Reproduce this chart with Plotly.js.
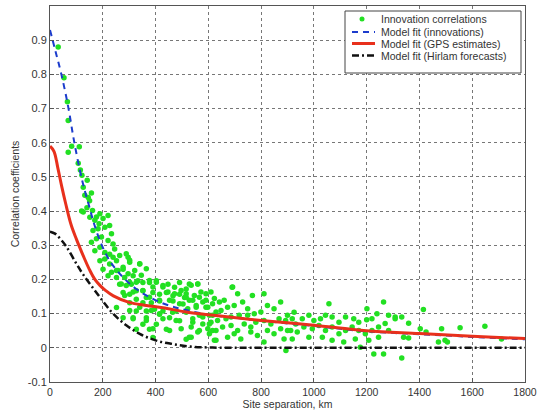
<!DOCTYPE html>
<html>
<head>
<meta charset="utf-8">
<script src="https://cdn.plot.ly/plotly-3.0.1.min.js"></script>
<style>html,body{margin:0;padding:0;background:#fff;}#chart{width:537px;height:414px;}</style>
</head>
<body>
<div id="chart"></div>
<script>
// Innovation correlations (site separation km, correlation)
const innovKm = [
 31,53,66,69,69,82,111,107,115,121,141,126,157,132,150,126,161,140,176,186,120,145,
 151,170,189,201,220,163,182,208,226,233,157,176,195,220,239,170,189,208,226,245,189,208,226,252,296,302,340,
 201,233,258,277,220,252,283,315,333,264,289,308,352,377,403,428,447,472,491,516,277,302,327,352,365,390,415,441,466,491,510,
 302,327,352,384,415,466,504,252,327,365,396,428,478,516,277,315,365,415,453,491,352,403,327,377,441,390,516,
 516,535,560,528,547,572,591,522,554,579,598,623,642,660,692,711,541,566,604,629,648,673,698,730,749,
 535,579,610,635,667,686,717,749,774,799,811,824,849,874,900,560,598,629,654,686,711,736,761,780,811,837,868,893,918,
 535,623,673,698,723,761,786,824,849,874,900,811,887,690,767,894,
 925,956,931,912,937,981,1000,1025,1057,1044,1069,1095,1120,1151,1170,1201,1220,1239,1264,1283,1308,
 962,994,1019,1044,1069,1095,1120,1145,1170,1195,1220,1245,1283,981,1032,1069,1113,1157,1208,1245,918,1227,1264,1176,1200,1270,
 1308,1333,1359,1340,1359,1415,1403,1425,1484,1472,1497,1506,1554,1648,1333,1711,
 239,264,289,302,340,277,252,296,321,346,365,377,327,302,270,403,428,390,352,315,283,447,472,497,528,560,516,541,566,591,610,
 377,415,453,491,554,591,616,340,302,384,415,465,516,579,616,315,365,428,478,541,604,390,453,497,566,616,528,604,629
];
const innovCorr = [
 0.88,0.79,0.72,0.665,0.572,0.59,0.588,0.54,0.52,0.505,0.49,0.47,0.453,0.446,0.43,0.397,0.402,0.41,0.383,0.363,0.40,0.44,
 0.382,0.373,0.392,0.378,0.387,0.343,0.348,0.353,0.358,0.334,0.309,0.319,0.324,0.314,0.304,0.284,0.294,0.279,0.274,0.289,0.255,0.26,0.245,0.255,0.265,0.25,0.245,
 0.23,0.221,0.226,0.23,0.211,0.206,0.206,0.211,0.196,0.186,0.182,0.186,0.191,0.191,0.196,0.182,0.186,0.177,0.191,0.172,0.162,0.157,0.167,0.167,0.147,0.162,0.157,0.162,0.152,0.157,0.147,
 0.132,0.142,0.132,0.132,0.137,0.137,0.128,0.118,0.108,0.108,0.113,0.108,0.108,0.108,0.088,0.088,0.088,0.098,0.088,0.079,0.069,0.069,0.054,0.054,0.054,0.03,0.025,
 0.158,0.183,0.187,0.139,0.153,0.163,0.158,0.114,0.124,0.134,0.119,0.144,0.134,0.139,0.178,0.158,0.085,0.095,0.095,0.105,0.109,0.119,0.124,0.134,0.114,
 0.061,0.07,0.075,0.08,0.085,0.09,0.095,0.095,0.1,0.105,0.158,0.124,0.114,0.134,0.095,0.046,0.056,0.051,0.061,0.065,0.051,0.07,0.061,0.075,0.08,0.07,0.085,0.08,0.085,
 0.031,0.022,0.031,0.041,0.026,0.046,0.036,0.051,0.041,0.056,0.051,0.017,0.026,0.177,0.153,-0.008,
 0.104,0.085,0.07,0.051,0.046,0.095,0.08,0.085,0.129,0.095,0.09,0.075,0.09,0.085,0.075,0.114,0.085,0.1,0.134,0.095,0.09,
 0.061,0.056,0.065,0.051,0.061,0.041,0.051,0.061,0.051,0.041,0.051,0.061,0.051,0.031,0.031,0.022,0.017,0.026,0.022,0.031,0.026,-0.018,-0.018,0.002,0.082,0.071,
 0.085,0.09,0.072,0.031,0.029,0.112,0.056,0.046,0.056,0.017,0.022,0.017,0.059,0.063,-0.03,0.026,
 0.265,0.27,0.275,0.256,0.246,0.236,0.226,0.217,0.226,0.212,0.231,0.197,0.192,0.192,0.187,0.192,0.178,0.178,0.168,0.163,0.153,0.163,0.158,0.168,0.187,0.187,0.148,0.139,0.148,0.139,0.163,
 0.148,0.139,0.139,0.129,0.119,0.119,0.129,0.119,0.109,0.109,0.1,0.104,0.104,0.09,0.095,0.085,0.08,0.085,0.08,0.075,0.07,0.056,0.051,0.056,0.051,0.051,0.031,0.041,0.022
];

// Model fit (innovations)
const innovFitKm   = [0,20,44,69,90,113,130,150,163,189,226,277,327,390,453,503,600,700,800,1000,1200,1400,1600,1800];
const innovFitCorr = [0.93,0.87,0.797,0.705,0.61,0.52,0.465,0.41,0.373,0.314,0.255,0.206,0.172,0.143,0.123,0.113,0.097,0.088,0.079,0.064,0.048,0.04,0.032,0.025];

// Model fit (GPS estimates)
const gpsFitKm   = [0,15,30,45,60,80,100,113,130,150,170,190,210,240,300,365,428,516,600,679,800,1000,1200,1400,1600,1800];
const gpsFitCorr = [0.59,0.575,0.525,0.47,0.42,0.36,0.318,0.293,0.262,0.228,0.2,0.182,0.168,0.152,0.133,0.124,0.117,0.105,0.097,0.09,0.08,0.066,0.05,0.042,0.034,0.027];

// Model fit (Hirlam forecasts)
const hirFitKm   = [0,19,40,63,100,126,163,201,239,289,340,403,466,528,600,700,1000,1400,1800];
const hirFitCorr = [0.34,0.334,0.318,0.295,0.246,0.214,0.175,0.136,0.1,0.066,0.041,0.021,0.011,0.004,0.001,0,0,0,0];

const xTickVals = [0,200,400,600,800,1000,1200,1400,1600,1800];
const yTickVals = [-0.1,0,0.1,0.2,0.3,0.4,0.5,0.6,0.7,0.8,0.9];
const yTickText = ['-0.1','0','0.1','0.2','0.3','0.4','0.5','0.6','0.7','0.8','0.9'];

const seriesNames = ['Innovation correlations','Model fit (innovations)','Model fit (GPS estimates)','Model fit (Hirlam forecasts)'];
const seriesColors = ['#22e022','#1c3ccc','#e8301c','#111111'];
const seriesDash = [null,'6px,5px','solid','7px,3px,2px,3px'];
const seriesWidth = [0,2,3,2.5];

const font = 'Liberation Sans, Arial, Helvetica, sans-serif';

const traces = [
  {x: innovKm, y: innovCorr, mode: 'markers', type: 'scatter', name: seriesNames[0],
   marker: {color: seriesColors[0], size: 5.5, line: {width: 0}}},
  {x: innovFitKm, y: innovFitCorr, mode: 'lines', type: 'scatter', name: seriesNames[1],
   line: {color: seriesColors[1], width: seriesWidth[1], dash: seriesDash[1], shape: 'spline'}},
  {x: gpsFitKm, y: gpsFitCorr, mode: 'lines', type: 'scatter', name: seriesNames[2],
   line: {color: seriesColors[2], width: seriesWidth[2], shape: 'spline'}},
  {x: hirFitKm, y: hirFitCorr, mode: 'lines', type: 'scatter', name: seriesNames[3],
   line: {color: seriesColors[3], width: seriesWidth[3], dash: seriesDash[3], shape: 'spline'}}
];

// legend drawn in paper coordinates (plot area: x 50..525 px, y 6..382 px)
const PX = v => (v - 50) / 475;
const PY = v => (382 - v) / 376;
const rowY = [19, 32, 43.5, 55.5];
const shapes = [
  {type: 'rect', xref: 'paper', yref: 'paper', x0: PX(345), x1: PX(521), y0: PY(73), y1: PY(11),
   line: {color: '#444', width: 1}, fillcolor: '#fff', layer: 'above'},
  {type: 'circle', xref: 'paper', yref: 'paper', x0: PX(359.5), x1: PX(364.5), y0: PY(rowY[0] + 2.5), y1: PY(rowY[0] - 2.5),
   line: {width: 0}, fillcolor: seriesColors[0], layer: 'above'}
];
for (let i = 1; i < 4; i++) {
  shapes.push({type: 'line', xref: 'paper', yref: 'paper', x0: PX(352), x1: PX(375), y0: PY(rowY[i]), y1: PY(rowY[i]),
    line: {color: seriesColors[i], width: seriesWidth[i], dash: seriesDash[i]}, layer: 'above'});
}
const annotations = seriesNames.map((t, i) => ({
  xref: 'paper', yref: 'paper', x: PX(379), y: PY(rowY[i]), xanchor: 'left', yanchor: 'middle',
  text: t, showarrow: false, font: {family: font, size: 10.5, color: '#333'}
}));

const layout = {
  width: 537, height: 414,
  margin: {l: 50, r: 12, t: 6, b: 32},
  paper_bgcolor: '#fff', plot_bgcolor: '#fff',
  font: {family: font, size: 11, color: '#333'},
  showlegend: false,
  shapes: shapes,
  annotations: annotations,
  xaxis: {range: [0, 1800], tickvals: xTickVals, ticklabeloverflow: 'allow',
    showgrid: true, gridcolor: '#777', griddash: 'dot', gridwidth: 1,
    zeroline: false, showline: true, linecolor: '#555', linewidth: 1, mirror: true,
    ticks: 'inside', ticklen: 4, tickcolor: '#555',
    tickfont: {family: font, size: 10.5, color: '#333'},
    title: {text: 'Site separation, km', font: {family: font, size: 10.5, color: '#333'}, standoff: 2}},
  yaxis: {range: [-0.1, 1.0], tickvals: yTickVals, ticktext: yTickText,
    showgrid: true, gridcolor: '#777', griddash: 'dot', gridwidth: 1,
    zeroline: false, showline: true, linecolor: '#555', linewidth: 1, mirror: true,
    ticks: 'inside', ticklen: 4, tickcolor: '#555',
    tickfont: {family: font, size: 11, color: '#333'},
    title: {text: 'Correlation coefficients', font: {family: font, size: 10.5, color: '#333'}, standoff: 6}}
};

Plotly.newPlot('chart', traces, layout, {displayModeBar: false, staticPlot: true});
</script>
</body>
</html>
